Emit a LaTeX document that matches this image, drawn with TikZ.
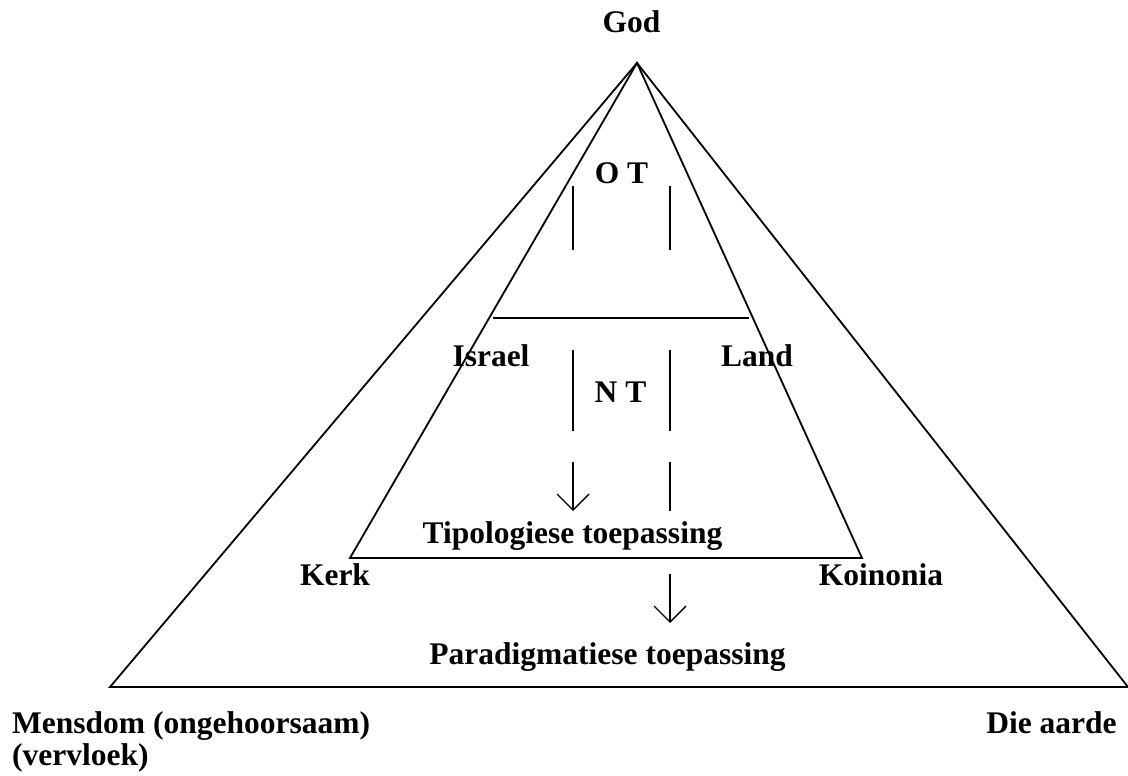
\documentclass[tikz,border=0pt]{standalone}
\usepackage{fontspec}
\setmainfont{Liberation Serif}
\usetikzlibrary{arrows.meta}
\begin{document}
\begin{tikzpicture}[x=1pt,y=-1pt,
  lbl/.style={font=\fontsize{31.5}{32}\selectfont\bfseries, inner sep=0pt, anchor=base},
  tri/.style={line width=1.8pt, line join=miter},
  seg/.style={line width=1.4pt},
  arr/.style={line width=1.4pt, -{Straight Barb[length=16pt,width=32pt,line width=1.4pt]}}]
\useasboundingbox (0,0) rectangle (1128,776);
% key points
\coordinate (apex) at (637,63);
\coordinate (oL) at (110,687);
\coordinate (oR) at (1128,687);
\coordinate (iL) at (350,558);
\coordinate (iR) at (862,558);
\coordinate (hL) at (493,318);
\coordinate (hR) at (749,318);
% triangles
\draw[tri] (oL) -- (apex) -- (oR) -- cycle;
\draw[tri] (iL) -- (apex) -- (iR) -- cycle;
\draw[tri] (hL) -- (hR);
% vertical segments
\draw[seg] (573,186) -- (573,250);
\draw[seg] (670,186) -- (670,250);
\draw[seg] (573,350) -- (573,431);
\draw[seg] (670,350) -- (670,431);
\draw[arr] (573,462) -- (573,511);
\draw[seg] (670,462) -- (670,511);
\draw[arr] (670,574) -- (670,623);
% labels
\node[lbl] (god) at (631.5,33) {God};
\node[lbl] (ot) at (621.5,183) {O T};
\node[lbl] (israel) at (491,366) {Israel};
\node[lbl] (land) at (757,366) {Land};
\node[lbl] (nt) at (620.5,402) {N T};
\node[lbl] (tipo) at (572.5,543) {Tipologiese toepassing};
\node[lbl] (kerk) at (335,585) {Kerk};
\node[lbl] (koin) at (881,585) {Koinonia};
\node[lbl] (para) at (607.5,664) {Paradigmatiese toepassing};
\node[lbl, anchor=base west] (mens) at (12,733) {Mensdom (ongehoorsaam)};
\node[lbl, anchor=base west] (verv) at (12,765) {(vervloek)};
\node[lbl] (aarde) at (1051.5,733) {Die aarde};
\end{tikzpicture}
\end{document}
